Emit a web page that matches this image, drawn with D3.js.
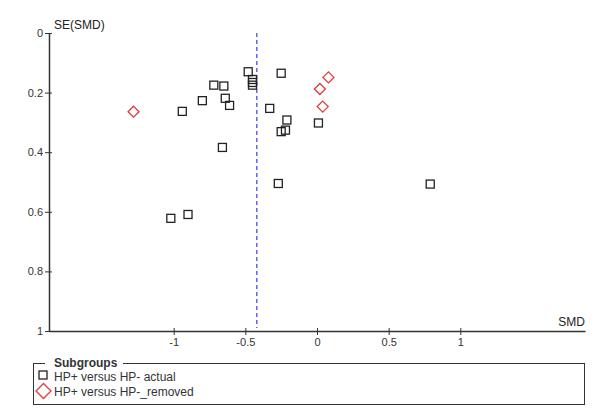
<!DOCTYPE html>
<html>
<head>
<meta charset="utf-8">
<script src="https://cdn.jsdelivr.net/npm/d3@7"></script>
<style>
  body { margin: 0; background: #fff; }
  svg { font-family: "Liberation Sans", Arial, sans-serif; }
  .tick text { font-size: 11px; fill: #333; }
</style>
</head>
<body>
<div class="funnel-card"></div>
<script>
// studies kept in the analysis
let actualSMD = [-0.48, -0.45, -0.45, -0.45, -0.25, -0.72, -0.65, -0.80, -0.64, -0.61,
                 -0.94, -0.66, -0.33, -0.21, -0.22, -0.25, 0.01, -0.27, -0.90, -1.02, 0.79];
let actualSE  = [0.130, 0.156, 0.166, 0.175, 0.135, 0.175, 0.178, 0.227, 0.219, 0.243,
                 0.263, 0.384, 0.253, 0.292, 0.326, 0.331, 0.302, 0.505, 0.609, 0.622, 0.507];

// studies removed
let removedSMD = [0.08, 0.02, 0.04, -1.28];
let removedSE  = [0.149, 0.188, 0.247, 0.264];

let pooledSMD = -0.42;
let xTicks = [-1, -0.5, 0, 0.5, 1];
let yTicks = [0, 0.2, 0.4, 0.6, 0.8, 1];
let legendLabels = ["HP+ versus HP- actual", "HP+ versus HP-_removed"];

let width = 600, height = 416;

createFunnelPlot = () => {
    let svg = d3.select(".funnel-card")
        .append("svg")
        .attr("width", width)
        .attr("height", height);

    let xScale = d3.scaleLinear()
        .domain([-1.87, 1.87])
        .range([49, 585]);

    let yScale = d3.scaleLinear()
        .domain([0, 1])
        .range([33, 331]);

    // y axis, ticks cross the line
    let yAxis = svg.append("g")
        .attr("transform", "translate(" + xScale.range()[0] + ",0)")
        .call(d3.axisLeft(yScale).tickValues(yTicks).tickSize(4).tickSizeOuter(0)
            .tickPadding(2).tickFormat(d => String(d)));
    yAxis.selectAll(".tick line").attr("x1", 3).attr("stroke", "#333");
    yAxis.select(".domain").attr("stroke", "#333").attr("stroke-width", 1.5);

    let xAxis = svg.append("g")
        .attr("transform", "translate(0," + yScale(1) + ")")
        .call(d3.axisBottom(xScale).tickValues(xTicks).tickSize(4).tickSizeOuter(0)
            .tickPadding(3).tickFormat(d => String(d)));
    xAxis.selectAll(".tick line").attr("y1", -3).attr("stroke", "#333");
    xAxis.select(".domain").attr("stroke", "#333").attr("stroke-width", 1.5);

    svg.append("text")
        .attr("x", 54)
        .attr("y", 29)
        .attr("font-size", 12)
        .attr("fill", "#222")
        .text("SE(SMD)");

    svg.append("text")
        .attr("x", 585)
        .attr("y", 326)
        .attr("text-anchor", "end")
        .attr("font-size", 12)
        .attr("fill", "#222")
        .text("SMD");

    // pooled estimate
    svg.append("line")
        .attr("x1", xScale(pooledSMD))
        .attr("x2", xScale(pooledSMD))
        .attr("y1", yScale(0))
        .attr("y2", yScale(1) - 3)
        .attr("stroke", "#4a4aee")
        .attr("stroke-width", 1.3)
        .attr("stroke-dasharray", "4,3");

    let actual = actualSMD.map((d, i) => ({ smd: d, se: actualSE[i] }));
    let removed = removedSMD.map((d, i) => ({ smd: d, se: removedSE[i] }));

    svg.selectAll("rect.actual")
        .data(actual)
        .enter()
        .append("rect")
        .attr("class", "actual")
        .attr("x", d => xScale(d.smd) - 4)
        .attr("y", d => yScale(d.se) - 4)
        .attr("width", 8)
        .attr("height", 8)
        .attr("fill", "none")
        .attr("stroke", "#222")
        .attr("stroke-width", 1.3);

    let diamond = s => "M0," + (-s) + "L" + s + ",0L0," + s + "L" + (-s) + ",0Z";

    svg.selectAll("path.removed")
        .data(removed)
        .enter()
        .append("path")
        .attr("class", "removed")
        .attr("d", diamond(5.5))
        .attr("transform", d => "translate(" + xScale(d.smd) + "," + yScale(d.se) + ")")
        .attr("fill", "none")
        .attr("stroke", "#e03a3a")
        .attr("stroke-width", 1.3);

    // legend
    let legend = svg.append("g");
    legend.append("rect")
        .attr("x", 33.5)
        .attr("y", 363.5)
        .attr("width", 551)
        .attr("height", 41)
        .attr("fill", "none")
        .attr("stroke", "#333");
    legend.append("rect")
        .attr("x", 45)
        .attr("y", 358)
        .attr("width", 78)
        .attr("height", 12)
        .attr("fill", "#fff");
    legend.append("text")
        .attr("x", 54)
        .attr("y", 367)
        .attr("font-size", 12)
        .attr("font-weight", "bold")
        .attr("fill", "#333")
        .text("Subgroups");

    legend.append("rect")
        .attr("x", 39)
        .attr("y", 371)
        .attr("width", 8)
        .attr("height", 8)
        .attr("fill", "none")
        .attr("stroke", "#222")
        .attr("stroke-width", 1.3);
    legend.append("path")
        .attr("d", diamond(7.5))
        .attr("transform", "translate(43.5,391)")
        .attr("fill", "none")
        .attr("stroke", "#e03a3a")
        .attr("stroke-width", 1.3);

    legend.selectAll("text.item")
        .data(legendLabels)
        .enter()
        .append("text")
        .attr("class", "item")
        .attr("x", 54)
        .attr("y", (d, i) => 381 + i * 15)
        .attr("font-size", 12)
        .attr("fill", "#333")
        .text(d => d);
}

createFunnelPlot()
</script>
</body>
</html>
